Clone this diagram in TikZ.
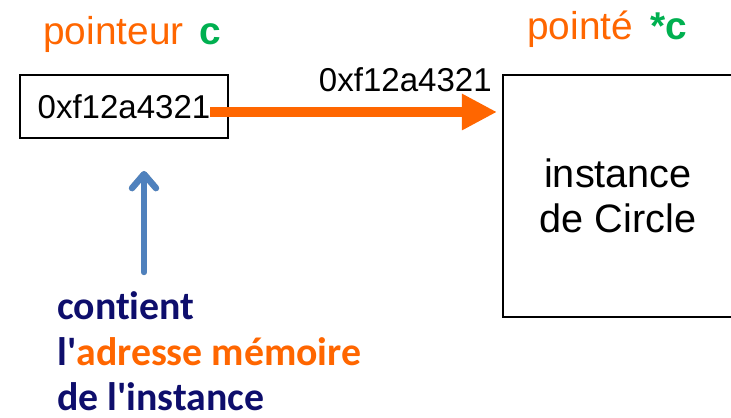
\documentclass[tikz,border=0pt]{standalone}
\usepackage{fontspec}
\setmainfont{Liberation Sans}
\newfontfamily\notefont[Ligatures={TeXOff, NoCommon}]{Carlito}
\usetikzlibrary{arrows.meta, calc}
\definecolor{orangeptr}{RGB}{255,102,0}
\definecolor{vertc}{RGB}{0,176,80}
\definecolor{bleunuit}{RGB}{14,14,108}
\definecolor{bleufleche}{RGB}{79,129,189}
\tikzset{
    boite/.style = {draw, line width=1.4pt, inner sep=0pt},
    grand/.style = {font=\fontsize{27.6}{32}\selectfont},
    moyen/.style = {font=\fontsize{23.5}{28}\selectfont}
}

\begin{document}
\begin{tikzpicture}[x=0.025cm, y=-0.025cm]
    \useasboundingbox (0,0) rectangle (731,418);
    % Titres
    \node[grand, anchor=base west, text=orangeptr, inner sep=0pt] (titreptr) at (43,45) {pointeur\hspace{0.4em}\textcolor{vertc}{\textbf{c}}};
    \node[grand, anchor=base west, text=orangeptr, inner sep=0pt] (titreinst) at (527,40) {point\'e\hspace{0.45em}\textcolor{vertc}{\textbf{*c}}};
    % Boites
    \node[boite, moyen, minimum width=5.2cm, minimum height=1.575cm] (ptr) at (124,106.5) {0xf12a4321};
    \node[boite, font=\fontsize{28.2}{32}\selectfont, align=center, minimum width=5.75cm, minimum height=6.05cm] (inst) at (618,196) {instance\\de Circle};
    \node[moyen, anchor=base east, inner sep=0pt] (adresse) at (492,92) {0xf12a4321};
    % Fleche orange
    \coordinate (depart) at ($(ptr.east)+(-19,5.5)$);
    \draw[orangeptr, line width=7.5pt, -{Triangle[length=0.875cm, width=0.85cm]}, shorten >=0.125cm] (depart) -- (depart -| inst.west);
    % Fleche bleue
    \coordinate (bas) at (144,272);
    \coordinate (haut) at ($(bas |- ptr.south)+(0,32)$);
    \draw[black, opacity=0.25, line width=4.5pt, line cap=round, -{Straight Barb[round, length=0.35cm, width=0.6cm]}, xshift=0.05cm, yshift=-0.06cm] (bas) -- (haut);
    \draw[bleufleche, line width=4.5pt, line cap=round, -{Straight Barb[round, length=0.35cm, width=0.6cm]}] (bas) -- (haut);
    % Texte
    \node[anchor=base west, align=left, inner sep=0pt, text=bleunuit, font=\notefont\bfseries\fontsize{28.3}{32.5}\selectfont] (note) at (57,411) {contient\\l'\textcolor{orangeptr}{adresse m\'emoire}\\de l'instance};
\end{tikzpicture}
\end{document}
